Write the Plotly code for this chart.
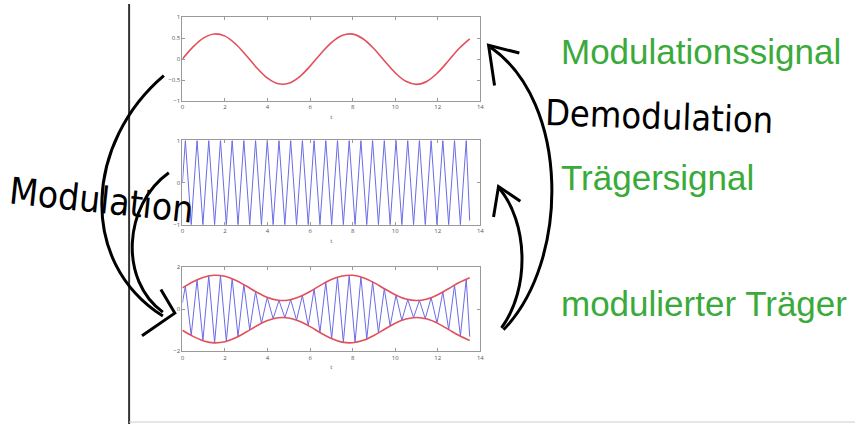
import numpy as np
import plotly.graph_objects as go

W, H = 859, 428

# ---------------- data ----------------
mod_t = [0, 0.5, 1, 1.5, 2, 2.5, 3, 3.5, 4, 4.5, 5, 5.5, 6, 6.5, 7, 7.5, 8, 8.5,
         9, 9.5, 10, 10.5, 11, 11.5, 12, 12.5, 13, 13.5]
mod_signal = [0, 0.29, 0.505, 0.598, 0.546, 0.359, 0.085, -0.21, -0.454, -0.587,
              -0.575, -0.423, -0.168, 0.129, 0.394, 0.563, 0.594, 0.479, 0.247,
              -0.045, -0.326, -0.528, -0.6, -0.525, -0.322, -0.04, 0.252, 0.482]
env_upper = [1.0, 1.29, 1.505, 1.598, 1.546, 1.359, 1.085, 0.79, 0.546, 0.413,
             0.425, 0.577, 0.832, 1.129, 1.394, 1.563, 1.594, 1.479, 1.247,
             0.955, 0.674, 0.472, 0.4, 0.475, 0.678, 0.96, 1.252, 1.482]
env_lower = [-1.0, -1.29, -1.505, -1.598, -1.546, -1.359, -1.085, -0.79, -0.546, -0.413,
             -0.425, -0.577, -0.832, -1.129, -1.394, -1.563, -1.594, -1.479, -1.247,
             -0.955, -0.674, -0.472, -0.4, -0.475, -0.678, -0.96, -1.252, -1.482]

# carrier / modulated carrier: extremum points (half period ~0.275)
osc_t = [0, 0.1375, 0.4125, 0.6875, 0.9625, 1.2375, 1.5125, 1.7875, 2.0625, 2.3375,
         2.6125, 2.8875, 3.1625, 3.4375, 3.7125, 3.9875, 4.2625, 4.5375, 4.8125,
         5.0875, 5.3625, 5.6375, 5.9125, 6.1875, 6.4625, 6.7375, 7.0125, 7.2875,
         7.5625, 7.8375, 8.1125, 8.3875, 8.6625, 8.9375, 9.2125, 9.4875, 9.7625,
         10.0375, 10.3125, 10.5875, 10.8625, 11.1375, 11.4125, 11.6875, 11.9625,
         12.2375, 12.5125, 12.7875, 13.0625, 13.3375, 13.5]
carrier = [0, 1, -1, 1, -1, 1, -1, 1, -1, 1, -1, 1, -1, 1, -1, 1, -1, 1, -1, 1, -1,
           1, -1, 1, -1, 1, -1, 1, -1, 1, -1, 1, -1, 1, -1, 1, -1, 1, -1, 1, -1,
           1, -1, 1, -1, 1, -1, 1, -1, 1, -0.9]
modulated = [0.3, 1.082, -1.241, 1.381, -1.492, 1.567, -1.599, 1.586, -1.529, 1.432,
             -1.303, 1.151, -0.988, 0.825, -0.674, 0.551, -0.459, 0.409, -0.403,
             0.441, -0.522, 0.638, -0.783, 0.943, -1.107, 1.262, -1.400, 1.508,
             -1.577, 1.600, -1.580, 1.517, -1.414, 1.281, -1.126, 0.962, -0.801,
             0.655, -0.535, 0.449, -0.405, 0.406, -0.451, 0.538, -0.659, 0.807,
             -0.968, 1.131, -1.286, 1.418, -1.3]

x_ticks = [0, 2, 4, 6, 8, 10, 12, 14]

RED = "#e2505c"
BLUE = "#6b6be6"
GREEN = "#3aaa3a"


def px(x):
    return x / W


def py(y):
    return 1 - y / H


fig = go.Figure()
fig.add_trace(go.Scatter(x=mod_t, y=mod_signal, mode="lines", line=dict(color=RED, width=1.6, shape="spline"),
                         xaxis="x", yaxis="y"))
fig.add_trace(go.Scatter(x=osc_t, y=carrier, mode="lines", line=dict(color=BLUE, width=1),
                         xaxis="x2", yaxis="y2"))
fig.add_trace(go.Scatter(x=osc_t, y=modulated, mode="lines", line=dict(color=BLUE, width=1),
                         xaxis="x3", yaxis="y3"))
fig.add_trace(go.Scatter(x=mod_t, y=env_upper, mode="lines", line=dict(color=RED, width=1.6, shape="spline"),
                         xaxis="x3", yaxis="y3"))
fig.add_trace(go.Scatter(x=mod_t, y=env_lower, mode="lines", line=dict(color=RED, width=1.6, shape="spline"),
                         xaxis="x3", yaxis="y3"))

xdom = [px(181.7), px(481.7)]
ydoms = [[py(99), py(13.3)], [py(225), py(139)], [py(354), py(267.7)]]

axis_common = dict(showline=True, mirror="ticks", linecolor="#9a9a9a", linewidth=1,
                   ticks="inside", ticklen=3, tickcolor="#9a9a9a", showgrid=False,
                   zeroline=False, tickfont=dict(size=6, color="#555"))
layout = dict(width=W, height=H, margin=dict(l=0, r=0, t=0, b=0),
              paper_bgcolor="white", plot_bgcolor="white", showlegend=False)
yinfo = [([-1, 1], [-1, -0.5, 0, 0.5, 1]), ([-1, 1], [-1, 0, 1]), ([-2, 2], [-2, 0, 2])]
for i in range(3):
    sx = "" if i == 0 else str(i + 1)
    layout["xaxis" + sx] = dict(axis_common, domain=xdom, range=[0, 14], tickvals=x_ticks,
                                anchor="y" + sx, title=dict(text="t", font=dict(size=6, color="#555"), standoff=4))
    layout["yaxis" + sx] = dict(axis_common, domain=ydoms[i], range=yinfo[i][0], tickvals=yinfo[i][1],
                                anchor="x" + sx)
fig.update_layout(**layout)

# green labels
for text, ybase in [("Modulationssignal", 59), ("Trägersignal", 188), ("modulierter Träger", 316)]:
    fig.add_annotation(x=px(561), y=py(ybase - 11), xref="paper", yref="paper", text=text,
                       showarrow=False, xanchor="left", yanchor="middle",
                       font=dict(family="Liberation Sans, Arial", size=35, color=GREEN))

# handwritten words
hand_font = "DejaVu Sans Condensed, Liberation Sans Narrow, DejaVu Sans"
fig.add_annotation(x=px(100), y=py(200), xref="paper", yref="paper", text="Modulation",
                   showarrow=False, xanchor="center", yanchor="middle", textangle=6,
                   font=dict(family=hand_font, size=37, color="black"))
fig.add_annotation(x=px(662), y=py(115), xref="paper", yref="paper", text="Demodulation",
                   showarrow=False, xanchor="center", yanchor="middle", textangle=2,
                   font=dict(family=hand_font, size=36, color="black"))


def path(cmds):
    out = []
    for c in cmds:
        if isinstance(c, str):
            out.append(c)
        else:
            out.append(f"{px(c[0]):.5f},{py(c[1]):.5f}")
    return " ".join(out)


stroke = dict(color="black", width=3)
shapes = [
    # slide edge
    dict(type="line", xref="paper", yref="paper", x0=px(128), x1=px(128), y0=0, y1=1,
         line=dict(color="#333", width=2)),
    dict(type="line", xref="paper", yref="paper", x0=px(128), x1=1, y0=py(426), y1=py(426),
         line=dict(color="#ccc", width=1)),
    # left arrows (Modulation)
    dict(type="path", xref="paper", yref="paper",
         path=path(["M", (163, 73), "C", (85, 140), (75, 262), (162, 318)]), line=stroke),
    dict(type="path", xref="paper", yref="paper",
         path=path(["M", (168, 172), "C", (122, 205), (118, 282), (162, 314)]), line=stroke),
    dict(type="path", xref="paper", yref="paper",
         path=path(["M", (160, 291), "L", (174, 315), "L", (141, 338)]), line=stroke),
    # right arrows (Demodulation)
    dict(type="path", xref="paper", yref="paper",
         path=path(["M", (505, 332), "C", (572, 262), (572, 100), (492, 44)]), line=stroke),
    dict(type="path", xref="paper", yref="paper",
         path=path(["M", (521, 50), "L", (490, 42), "L", (496, 83)]), line=stroke),
    dict(type="path", xref="paper", yref="paper",
         path=path(["M", (503, 330), "C", (532, 290), (530, 222), (500, 187)]), line=stroke),
    dict(type="path", xref="paper", yref="paper",
         path=path(["M", (522, 201), "L", (500, 186), "L", (495, 217)]), line=stroke),
]
fig.update_layout(shapes=shapes)

fig.write_html("out.html", config={"displayModeBar": False},
               post_script="document.body.style.margin='0';document.body.style.overflow='hidden';")
